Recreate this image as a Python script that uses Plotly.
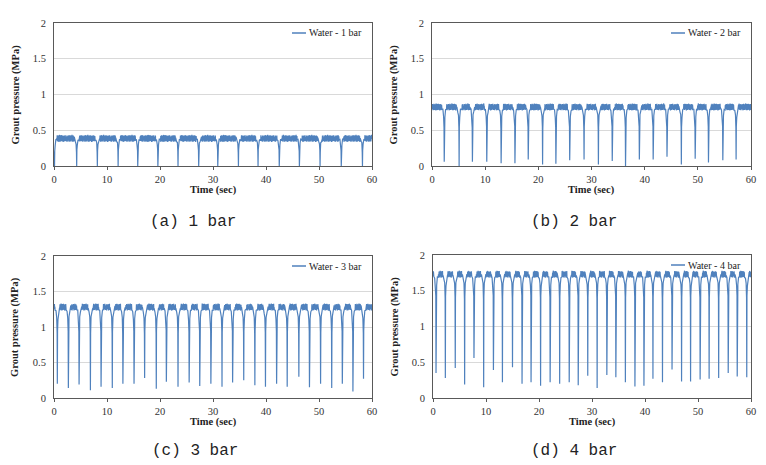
import plotly.graph_objects as go

# ---------------- data ----------------
# times (s) of the pressure dips and the minimum pressure (MPa) at each dip
dip_t_1bar = [0.1, 4.28, 8.18, 12.1, 15.8, 19.6, 23.4, 27.3, 30.9, 34.8, 38.5, 42.5, 46.3, 50.2, 54.2, 58.2]
dip_v_1bar = [0.0] * 16

dip_t_2bar = [2.3, 5.1, 7.6, 10.3, 13.0, 15.6, 18.1, 20.8, 23.3, 25.9, 28.6, 31.3, 33.9, 36.4, 39.0,
              41.6, 44.2, 46.9, 49.5, 52.0, 54.7, 57.2]
dip_v_2bar = [0.06, 0.0, 0.06, 0.06, 0.04, 0.04, 0.09, 0.02, 0.03, 0.08, 0.09, 0.02, 0.07, 0.0, 0.09,
              0.09, 0.13, 0.02, 0.1, 0.05, 0.08, 0.09]

dip_t_3bar = [0.63, 2.71, 4.73, 6.87, 8.88, 11.0, 13.0, 15.1, 17.1, 19.3, 21.2, 23.4, 25.5, 27.5, 29.6,
              31.7, 33.7, 35.8, 37.9, 39.9, 42.0, 44.0, 46.2, 48.2, 50.3, 52.4, 54.4, 56.4, 58.4]
dip_v_3bar = [0.2, 0.14, 0.19, 0.11, 0.16, 0.14, 0.2, 0.2, 0.28, 0.13, 0.23, 0.16, 0.22, 0.17, 0.2,
              0.16, 0.22, 0.25, 0.18, 0.16, 0.2, 0.16, 0.3, 0.15, 0.2, 0.14, 0.2, 0.09, 0.27]

dip_t_4bar = [0.57, 2.33, 4.2, 5.97, 7.73, 9.56, 11.4, 13.1, 15.0, 16.8, 18.5, 20.3, 22.1, 23.9, 25.7,
              27.4, 29.2, 30.97, 32.8, 34.5, 36.3, 38.1, 39.8, 41.5, 43.3, 45.1, 46.9, 48.6, 50.4, 52.1,
              53.9, 55.7, 57.4, 59.2]
dip_v_4bar = [0.35, 0.28, 0.42, 0.19, 0.56, 0.15, 0.39, 0.22, 0.43, 0.2, 0.22, 0.17, 0.22, 0.2, 0.22,
              0.18, 0.31, 0.14, 0.32, 0.29, 0.22, 0.16, 0.17, 0.27, 0.22, 0.4, 0.23, 0.23, 0.26, 0.27,
              0.28, 0.35, 0.3, 0.29]

# steady (plateau) pressure and the sag just beside each dip (MPa)
plateau = {"1": 0.385, "2": 0.825, "3": 1.28, "4": 1.73}
sag = {"1": 0.055, "2": 0.09, "3": 0.11, "4": 0.1}

# shoulder shape beside a dip: time offset (s) and fraction of the sag
shoulder_dt = [0.04, 0.12, 0.25, 0.42]
shoulder_f = [3.2, 1.4, 0.6, 0.2]

# small ripple (MPa)
ripple = [0.018, -0.03, 0.042, -0.012, 0.006, -0.046, 0.034, 0.012, -0.024, 0.046, -0.04, 0.0,
          0.03, -0.018, 0.04, -0.042, 0.012, 0.024, -0.034, 0.05, -0.006, 0.018, -0.046, 0.034,
          -0.012, 0.042, -0.03, 0.006, -0.04, 0.024, 0.046, -0.018, 0.0, -0.034, 0.04, -0.024,
          0.03, -0.048, 0.012, 0.034, -0.012, 0.042, -0.042, 0.018, -0.006, 0.03, -0.034, 0.046,
          -0.018, 0.006, 0.024, -0.04, 0.034, -0.03, 0.012, 0.04, -0.046, 0.018, -0.012, 0.03]

x_ticks = [0, 10, 20, 30, 40, 50, 60]
y_ticks = [0, 0.5, 1, 1.5, 2]
y_tick_text = ["0", "0.5", "1", "1.5", "2"]
legend_names = ["Water - 1 bar", "Water - 2 bar", "Water - 3 bar", "Water - 4 bar"]
captions = ["(a) 1 bar", "(b) 2 bar", "(c) 3 bar", "(d) 4 bar"]

STEP = 0.04


def build(dips_t, dips_v, P, S):
    xs, ys = [], []
    k = 0

    def plateau_run(t0, t1):
        nonlocal k
        t = t0
        while t < t1:
            xs.append(t)
            ys.append(P + ripple[k % len(ripple)])
            k += 1
            t += STEP

    edges = [0.0] + list(dips_t) + [60.0]
    for i in range(len(edges) - 1):
        a, b = edges[i], edges[i + 1]
        left_is_dip = i > 0
        right_is_dip = i < len(dips_t)
        if left_is_dip:
            xs.append(a)
            ys.append(dips_v[i - 1])
            for dt, f in zip(shoulder_dt, shoulder_f):
                xs.append(a + dt)
                ys.append(P - f * S + ripple[k % len(ripple)] * 0.5)
                k += 1
        start = a + (shoulder_dt[-1] + STEP if left_is_dip else 0.0)
        end = b - (shoulder_dt[-1] + STEP if right_is_dip else 0.0)
        plateau_run(start, end)
        if right_is_dip:
            for dt, f in zip(reversed(shoulder_dt), reversed(shoulder_f)):
                xs.append(b - dt)
                ys.append(P - f * S + ripple[k % len(ripple)] * 0.5)
                k += 1
    keep = [(x, y) for x, y in zip(xs, ys) if 0 <= x <= 60]
    return [p[0] for p in keep], [p[1] for p in keep]


series = [
    build(dip_t_1bar, dip_v_1bar, plateau["1"], sag["1"]),
    build(dip_t_2bar, dip_v_2bar, plateau["2"], sag["2"]),
    build(dip_t_3bar, dip_v_3bar, plateau["3"], sag["3"]),
    build(dip_t_4bar, dip_v_4bar, plateau["4"], sag["4"]),
]

# ---------------- layout ----------------
# the page body adds an 8px margin, so the figure is drawn 8px in from the window corner
OFF = 8
W, H = 766 - OFF, 465 - OFF
LINE = "#4F81BD"
SERIF = "Liberation Serif, Times New Roman, serif"

# plot areas in window pixels: (left, right, top, bottom)
boxes = [(54, 372, 23, 166), (432, 751, 23, 166), (54, 372, 256, 398), (433, 751, 255, 398)]
caption_pos = [(193, 222), (574, 222), (195, 451), (574, 451)]


def px(x):
    return (x - OFF) / W


def py(y):
    return 1 - (y - OFF) / H


fig = go.Figure()
shapes, annotations = [], []
layout_axes = {}

for i, ((xv, yv), (l, r, t, b)) in enumerate(zip(series, boxes)):
    n = "" if i == 0 else str(i + 1)
    fig.add_trace(go.Scatter(x=xv, y=yv, mode="lines", name=legend_names[i],
                             line=dict(color=LINE, width=1.2), showlegend=False,
                             xaxis="x" + n, yaxis="y" + n))
    layout_axes["xaxis" + n] = dict(
        domain=[px(l), px(r)], anchor="y" + n, range=[0, 60], tickvals=x_ticks,
        showgrid=False, zeroline=False, showline=True, mirror=True, linecolor="#595959",
        linewidth=1, ticks="outside", ticklen=3, tickcolor="#595959", automargin=False,
        tickfont=dict(family=SERIF, size=10.5, color="#333333"),
    )
    layout_axes["yaxis" + n] = dict(
        domain=[py(b), py(t)], anchor="x" + n, range=[0, 2], tickvals=y_ticks,
        ticktext=y_tick_text, showgrid=True, gridcolor="#D9D9D9", gridwidth=1, zeroline=False,
        showline=True, mirror=True, linecolor="#595959", linewidth=1, automargin=False,
        ticks="outside", ticklen=5, tickcolor="rgba(0,0,0,0)",
        tickfont=dict(family=SERIF, size=10.5, color="#333333"),
    )
    # axis titles
    annotations.append(dict(text="<b>Time (sec)</b>", x=px((l + r) / 2), y=py(b + 24),
                            xref="paper", yref="paper", showarrow=False,
                            font=dict(family=SERIF, size=10.5, color="#222222"),
                            xanchor="center", yanchor="middle"))
    annotations.append(dict(text="<b>Grout pressure (MPa)</b>", x=px(l - 39),
                            y=py((t + b) / 2), xref="paper", yref="paper", showarrow=False,
                            textangle=-90, font=dict(family=SERIF, size=10.5, color="#222222"),
                            xanchor="center", yanchor="middle"))
    # legend (line sample + label)
    ly = t + 10
    lx0 = r - 80
    shapes.append(dict(type="line", xref="paper", yref="paper", x0=px(lx0), x1=px(lx0 + 14),
                       y0=py(ly), y1=py(ly), line=dict(color=LINE, width=1.5)))
    annotations.append(dict(text=legend_names[i], x=px(lx0 + 15), y=py(ly),
                            xref="paper", yref="paper", showarrow=False, xanchor="left",
                            yanchor="middle", font=dict(family=SERIF, size=10, color="#222222")))
    # caption
    cx, cy = caption_pos[i]
    annotations.append(dict(text=captions[i], x=px(cx), y=py(cy), xref="paper", yref="paper",
                            showarrow=False, xanchor="center", yanchor="middle",
                            font=dict(family="Liberation Mono, Courier New, monospace", size=16,
                                      color="#222222")))

fig.update_layout(
    width=W, height=H, margin=dict(l=0, r=0, t=0, b=0),
    paper_bgcolor="white", plot_bgcolor="white",
    showlegend=False, shapes=shapes, annotations=annotations, **layout_axes,
)

fig.write_html("out.html")
